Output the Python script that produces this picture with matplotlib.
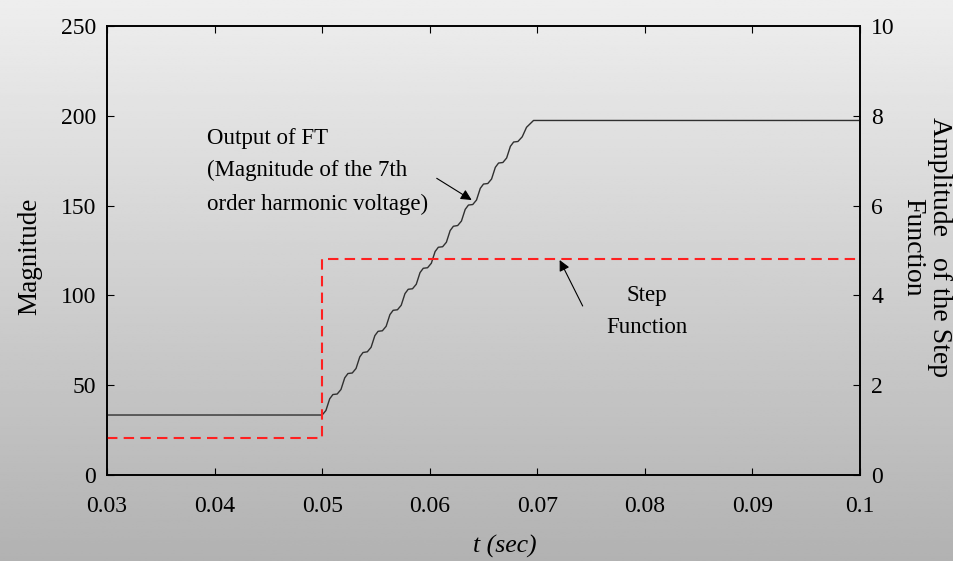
import numpy as np
import matplotlib
matplotlib.use("Agg")
import matplotlib.pyplot as plt

plt.rcParams['font.family'] = ['Liberation Serif', 'DejaVu Serif']

# ---- data ----
# FT output magnitude (time in ms)
ft_t_ms = [30.0, 50.0,
           50.35, 50.7, 51.0, 51.4,
           51.75, 52.1, 52.4, 52.8,
           53.15, 53.5, 53.8, 54.2,
           54.55, 54.9, 55.2, 55.6,
           55.95, 56.3, 56.6, 57.0,
           57.35, 57.7, 58.0, 58.4,
           58.75, 59.1, 59.4, 59.8,
           60.15, 60.5, 60.8, 61.2,
           61.55, 61.9, 62.2, 62.6,
           62.95, 63.3, 63.6, 64.0,
           64.35, 64.7, 65.0, 65.4,
           65.75, 66.1, 66.4, 66.8,
           67.15, 67.5, 67.8, 68.2,
           68.6, 69.0, 69.65, 100.0]
ft_mag = [33.4, 33.4,
          35.9, 42.4, 44.8, 45.1,
          47.6, 54.1, 56.5, 56.8,
          59.3, 65.8, 68.2, 68.6,
          71.1, 77.6, 80.0, 80.3,
          82.8, 89.3, 91.7, 92.0,
          94.5, 101.0, 103.4, 103.7,
          106.2, 112.7, 115.1, 115.4,
          117.9, 124.4, 126.8, 127.1,
          129.6, 136.1, 138.5, 138.9,
          141.4, 147.9, 150.3, 150.6,
          153.1, 159.6, 162.0, 162.3,
          164.8, 171.3, 173.7, 174.0,
          176.5, 183.0, 185.4, 185.7,
          188.3, 193.6, 197.4, 197.4]

# Step function (right axis)
step_t = [0.03, 0.05, 0.05, 0.10]
step_amp = [0.82, 0.82, 4.80, 4.80]

x_ticks = [0.03, 0.04, 0.05, 0.06, 0.07, 0.08, 0.09, 0.1]
x_ticklabels = ['0.03', '0.04', '0.05', '0.06', '0.07', '0.08', '0.09', '0.1']
y_left_ticks = [0, 50, 100, 150, 200, 250]
y_right_ticks = [0, 2, 4, 6, 8, 10]

W, H = 954, 561
fig = plt.figure(figsize=(W / 100, H / 100), dpi=100)

# gradient background
bg = fig.add_axes([0, 0, 1, 1], zorder=-10)
grad = np.linspace(238, 178, 256).reshape(-1, 1) / 255.0
bg.imshow(np.repeat(grad, 2, axis=1), cmap='gray', vmin=0, vmax=1,
          aspect='auto', extent=[0, 1, 0, 1], origin='upper')
bg.set_axis_off()

L, R, B, T = 107, 860, 475, 26
ax = fig.add_axes([L / W, 1 - B / H, (R - L) / W, (B - T) / H])
ax.patch.set_alpha(0)
ax2 = ax.twinx()
ax2.patch.set_alpha(0)

ax.plot(np.array(ft_t_ms) / 1000.0, ft_mag, color='#303030', lw=1.0, zorder=3)
ax2.plot(step_t, step_amp, color='#ff2020', lw=1.5, dashes=(5, 3), zorder=2)

ax.set_xlim(0.03, 0.1)
ax.set_ylim(0, 250)
ax2.set_ylim(0, 10)
ax.set_xticks(x_ticks)
ax.set_xticklabels(x_ticklabels)
ax.set_yticks(y_left_ticks)
ax2.set_yticks(y_right_ticks)

tick_fs = 17
ax.tick_params(axis='x', direction='in', top=True, length=5, width=0.8,
               labelsize=tick_fs, pad=15, colors='black')
ax.tick_params(axis='y', direction='in', length=5, width=0.8,
               labelsize=tick_fs, pad=8)
ax2.tick_params(axis='y', direction='in', length=5, width=0.8,
                labelsize=tick_fs, pad=8)

for a in (ax, ax2):
    for s in a.spines.values():
        s.set_linewidth(1.2)
        s.set_color('black')

# axis labels
fig.text(30 / W, 1 - 256 / H, 'Magnitude', rotation=90, ha='center',
         va='center', fontsize=19.5)
fig.text(926 / W, 1 - 247 / H, 'Amplitude   of the Step\nFunction',
         rotation=270, ha='center', va='center', fontsize=20,
         multialignment='center', linespacing=1.1)
fig.text(505 / W, 1 - 546 / H, 't (sec)', ha='center', va='center',
         fontsize=18.5, style='italic')

# annotations
ann_fs = 16.5
ax.text(0.03928, 187.2, 'Output of FT', fontsize=ann_fs, va='center', ha='left')
ax.text(0.03928, 169.4, '(Magnitude of the 7th', fontsize=ann_fs, va='center', ha='left')
ax.text(0.03928, 150.9, 'order harmonic voltage)', fontsize=ann_fs, va='center', ha='left')
ax.annotate('', xy=(0.0639, 153.1), xytext=(0.06065, 165.2),
            arrowprops=dict(arrowstyle='-|>', color='black', lw=0.8,
                            mutation_scale=16, shrinkA=0, shrinkB=0))

ax.text(0.0802, 99.7, 'Step', fontsize=ann_fs, va='center', ha='center')
ax.text(0.0802, 82.4, 'Function', fontsize=ann_fs, va='center', ha='center')
ax.annotate('', xy=(0.07208, 119.7), xytext=(0.07422, 94.1),
            arrowprops=dict(arrowstyle='-|>', color='black', lw=0.8,
                            mutation_scale=16, shrinkA=0, shrinkB=0))

fig.savefig('out.png', dpi=100)
